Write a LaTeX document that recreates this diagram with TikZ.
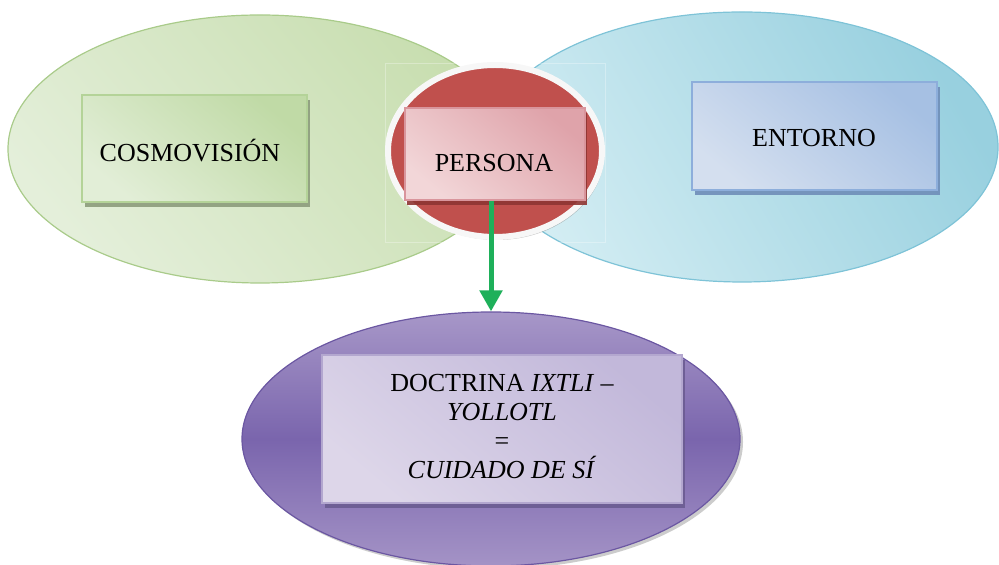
\documentclass[tikz,border=0pt]{standalone}
\usepackage{fontspec}
\setmainfont{Liberation Serif}
\usetikzlibrary{shapes.geometric,arrows.meta,shadows}
\definecolor{grA}{HTML}{C8DEB0}
\definecolor{grB}{HTML}{E4EFDA}
\definecolor{grE}{HTML}{A9CB8A}
\definecolor{blA}{HTML}{98D0DF}
\definecolor{blB}{HTML}{D3EDF3}
\definecolor{blE}{HTML}{7EC3D7}
\definecolor{redF}{HTML}{C0504D}
\definecolor{pkA}{HTML}{DFA3AA}
\definecolor{pkB}{HTML}{F2D6D8}
\definecolor{pkE}{HTML}{D9959C}
\definecolor{pkS}{HTML}{8E3533}
\definecolor{cgA}{HTML}{C0DAA6}
\definecolor{cgB}{HTML}{E2EED7}
\definecolor{cgE}{HTML}{B4D398}
\definecolor{cgS}{HTML}{8C9C7C}
\definecolor{enA}{HTML}{A6C0E3}
\definecolor{enB}{HTML}{D4DFEF}
\definecolor{enE}{HTML}{8DAEDB}
\definecolor{enS}{HTML}{6F8DB8}
\definecolor{puT}{HTML}{A797C8}
\definecolor{puM}{HTML}{7A65AD}
\definecolor{puB}{HTML}{A493C6}
\definecolor{puE}{HTML}{6B57A2}
\definecolor{dcA}{HTML}{C2B8DA}
\definecolor{dcB}{HTML}{DDD6E9}
\definecolor{dcE}{HTML}{B3A7CF}
\definecolor{dcS}{HTML}{6B5C92}
\definecolor{arr}{HTML}{1EB05A}
\begin{document}
\begin{tikzpicture}[x=0.5pt,y=-0.5pt,
  txt/.style={font=\fontsize{13}{14.5}\selectfont, text=black, align=center, inner sep=0pt},
  bigell/.style={ellipse, inner sep=0pt, line width=0.6pt},
  boxn/.style={rectangle, inner sep=0pt, line width=0.8pt}]
\useasboundingbox (0,0) rectangle (999,565);
% big ellipses
\node[bigell, draw=grE, top color=grA, bottom color=grB, shading angle=-50,
      minimum width=252pt, minimum height=134pt] (green) at (260,149) {};
\node[bigell, draw=blE, top color=blA, bottom color=blB, shading angle=-60,
      minimum width=256pt, minimum height=135pt] (blue) at (742,147) {};
% faint frame
\draw[white, opacity=.3, line width=.4pt] (385,63) rectangle (605,242);
% red ellipse
\node[ellipse, inner sep=0pt, fill=redF, draw=white!94!gray, line width=3pt,
      drop shadow={shadow xshift=1pt, shadow yshift=-1.5pt, fill=gray, opacity=.45},
      minimum width=107pt, minimum height=86pt] (red) at (495,151) {};
% boxes
\node[boxn, draw=pkE, top color=pkA, bottom color=pkB, shading angle=-40,
      drop shadow={shadow xshift=1.2pt, shadow yshift=-2.5pt, fill=pkS, opacity=.9},
      minimum width=90pt, minimum height=46pt] (persona) at (495,154) {};
\node[txt] (personaT) at (494,163) {PERSONA};
\node[boxn, draw=cgE, top color=cgA, bottom color=cgB, shading angle=-40,
      drop shadow={shadow xshift=1.5pt, shadow yshift=-2.5pt, fill=cgS, opacity=.9},
      minimum width=112.5pt, minimum height=53.5pt] (cosmo) at (194.5,148.5) {};
\node[txt] (cosmoT) at (190,151) {COSMOVISIÓN};
\node[boxn, draw=enE, top color=enA, bottom color=enB, shading angle=-40,
      drop shadow={shadow xshift=1.5pt, shadow yshift=-2.5pt, fill=enS, opacity=.9},
      minimum width=122.5pt, minimum height=54pt] (entorno) at (814.5,136) {};
\node[txt] (entornoT) at (814,138) {ENTORNO};
% purple ellipse
\node[bigell, draw=puE, top color=puT, bottom color=puB, middle color=puM,
      drop shadow={shadow xshift=1.5pt, shadow yshift=-1.5pt, fill=gray, opacity=.4},
      minimum width=249pt, minimum height=127pt] (doctE) at (491,439) {};
\node[boxn, draw=dcE, top color=dcA, bottom color=dcB, shading angle=-40,
      drop shadow={shadow xshift=1.5pt, shadow yshift=-2.5pt, fill=dcS, opacity=.9},
      minimum width=180pt, minimum height=74pt] (doct) at (502,429) {};
\node[txt] (doctT) at (502,427) {DOCTRINA \textit{IXTLI} –\\ \textit{YOLLOTL}\\ =\\ \textit{CUIDADO DE SÍ}};
% arrow
\draw[arr, line width=2.5pt, -{Triangle[width=11pt,length=10.5pt]}]
  (persona.south -| doctE.north) -- (doctE.north);
\end{tikzpicture}
\end{document}
